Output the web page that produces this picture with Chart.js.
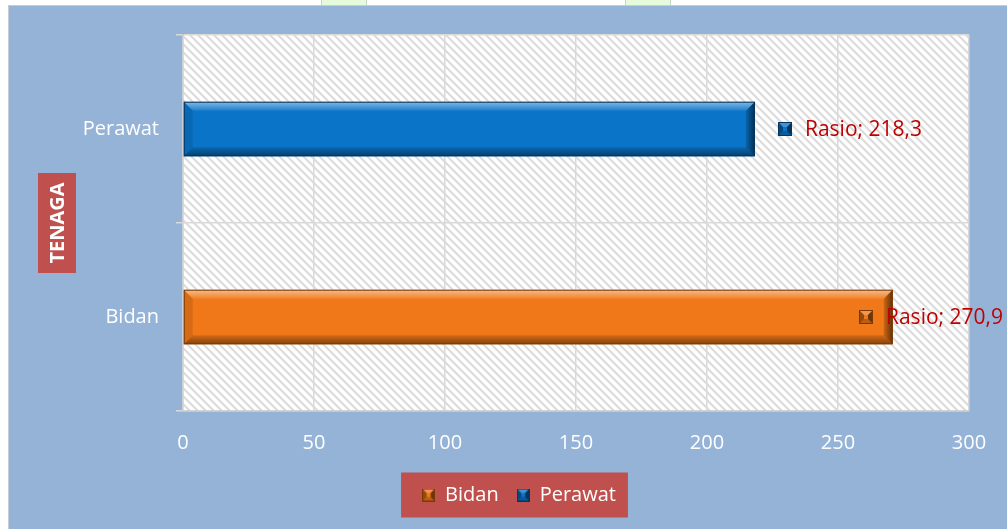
<!DOCTYPE html>
<html><head><meta charset="utf-8">
<script src="https://cdn.jsdelivr.net/npm/chart.js@4.4.1/dist/chart.umd.min.js"></script>
<style>
html,body{margin:0;padding:0;background:#fff;width:1007px;height:529px;overflow:hidden;font-family:"Open Sans",sans-serif}
.wm{position:absolute;top:0;height:5px;width:44px;background:#E6FBDC;border-left:1px solid #C9D2C4;border-right:1px solid #C9D2C4}
#box{position:absolute;left:8px;top:5px;width:999px;height:524px;background:#95B3D7;border-left:1px solid #C4CCD6;border-top:1px solid #C4CCD6;box-sizing:border-box}
#wrap{position:relative;width:998px;height:523px}
canvas{display:block}
</style></head>
<body>
<div class="wm" style="left:321px"></div>
<div class="wm" style="left:625px"></div>
<div id="box"><div id="wrap"><canvas id="c" width="998" height="523"></canvas></div></div>
<script>
// ---- data ----
const categories = ['Bidan', 'Perawat'];
const seriesName = 'Rasio';
const values = [270.9, 218.3];
const xTicks = [0, 50, 100, 150, 200, 250, 300];
const axisTitle = 'TENAGA';

// ---- styles ----
const barColors = ['#F07818', '#0A74C8'];
const barEdges = ['#7A3A06', '#04365F'];
const FONT = "'Open Sans', sans-serif";
Chart.defaults.font.family = FONT;

function poly(ctx, pts, fill){
  ctx.beginPath(); ctx.moveTo(pts[0][0], pts[0][1]);
  for (let k = 1; k < pts.length; k++) ctx.lineTo(pts[k][0], pts[k][1]);
  ctx.closePath(); ctx.fillStyle = fill; ctx.fill();
}
function drawMarker(ctx, x, y, s, i){
  const cx = x + s/2, cy = y + s/2;
  ctx.fillStyle = barColors[i]; ctx.fillRect(x, y, s, s);
  poly(ctx, [[x,y],[x+s,y],[cx,cy]], 'rgba(255,255,255,0.22)');
  poly(ctx, [[x,y+s],[x+s,y+s],[cx,cy]], 'rgba(0,0,0,0.22)');
  poly(ctx, [[x,y],[x,y+s],[cx,cy]], 'rgba(0,0,0,0.38)');
  poly(ctx, [[x+s,y],[x+s,y+s],[cx,cy]], 'rgba(0,0,0,0.55)');
  ctx.fillStyle = barColors[i];
  ctx.fillRect(cx-2, cy-2, 4, 4);
  ctx.strokeStyle = barEdges[i]; ctx.lineWidth = 1;
  ctx.strokeRect(x+0.5, y+0.5, s-1, s-1);
}
const markerImgs = categories.map((c, i) => {
  const cv = document.createElement('canvas'); cv.width = 13; cv.height = 13;
  drawMarker(cv.getContext('2d'), 0, 0, 13, i);
  return cv;
});

// hatch pattern
const hatch = document.createElement('canvas');
hatch.width = 8; hatch.height = 8;
(function(){
  const g = hatch.getContext('2d');
  g.fillStyle = '#FFFFFF'; g.fillRect(0,0,8,8);
  g.strokeStyle = '#DCDCDC'; g.lineWidth = 2.2;
  g.beginPath();
  g.moveTo(-2,-2); g.lineTo(10,10);
  g.moveTo(-10,-2); g.lineTo(2,10);
  g.moveTo(6,-2); g.lineTo(18,10);
  g.stroke();
})();

const background = {
  id: 'background',
  beforeDraw(chart){
    const {ctx, chartArea: a} = chart;
    ctx.save();
    ctx.fillStyle = ctx.createPattern(hatch, 'repeat');
    ctx.fillRect(a.left, a.top, a.right - a.left, a.bottom - a.top);
    const lg = chart.legend;
    if (lg && lg.legendHitBoxes && lg.legendHitBoxes.length){
      let l = Infinity, r = -Infinity, t = Infinity, b = -Infinity;
      lg.legendHitBoxes.forEach(h => {
        l = Math.min(l, h.left); r = Math.max(r, h.left + h.width);
        t = Math.min(t, h.top); b = Math.max(b, h.top + h.height);
      });
      const cy = (t + b) / 2;
      ctx.fillStyle = '#C0504D';
      ctx.fillRect(l - 21, cy - 22.5, (r - l) + 33, 45);
    }
    const cy = (a.top + a.bottom) / 2;
    ctx.fillStyle = '#C0504D';
    ctx.fillRect(29, cy - 50, 38, 100);
    ctx.translate(48.5, cy);
    ctx.rotate(-Math.PI / 2);
    ctx.fillStyle = '#FFFFFF';
    ctx.font = 'bold 20px ' + FONT;
    ctx.textAlign = 'center'; ctx.textBaseline = 'middle';
    ctx.fillText(axisTitle, 0, 1);
    ctx.restore();
  }
};

const bevel = {
  id: 'bevel',
  afterDatasetsDraw(chart){
    const ctx = chart.ctx;
    const meta = chart.getDatasetMeta(0);
    ctx.save();
    meta.data.forEach((bar, i) => {
      const p = bar.getProps(['x','y','base','height'], true);
      const L = Math.min(p.base, p.x), R = Math.max(p.base, p.x);
      const T = p.y - p.height/2, B = p.y + p.height/2;
      const b = 9;
      let g = ctx.createLinearGradient(0, T, 0, T + b);
      g.addColorStop(0, 'rgba(255,255,255,0.5)'); g.addColorStop(1, 'rgba(255,255,255,0.08)');
      poly(ctx, [[L,T],[R,T],[R-b,T+b],[L+b,T+b]], g);
      g = ctx.createLinearGradient(0, B - b, 0, B);
      g.addColorStop(0, 'rgba(0,0,0,0.12)'); g.addColorStop(1, 'rgba(0,0,0,0.45)');
      poly(ctx, [[L,B],[R,B],[R-b,B-b],[L+b,B-b]], g);
      poly(ctx, [[L,T],[L+b,T+b],[L+b,B-b],[L,B]], 'rgba(0,0,0,0.10)');
      g = ctx.createLinearGradient(R - b, 0, R, 0);
      g.addColorStop(0, 'rgba(0,0,0,0.15)'); g.addColorStop(1, 'rgba(0,0,0,0.6)');
      poly(ctx, [[R,T],[R-b,T+b],[R-b,B-b],[R,B]], g);
      ctx.strokeStyle = barEdges[i]; ctx.lineWidth = 1;
      ctx.strokeRect(L + 0.5, T + 0.5, R - L - 1, B - T - 1);
    });
    ctx.restore();
  }
};

const dataLabels = {
  id: 'dataLabels',
  afterDatasetsDraw(chart){
    const ctx = chart.ctx;
    const meta = chart.getDatasetMeta(0);
    ctx.save();
    ctx.font = '21px ' + FONT;
    ctx.textBaseline = 'middle'; ctx.textAlign = 'left';
    meta.data.forEach((bar, i) => {
      const txt = seriesName + '; ' + values[i].toFixed(1).replace('.', ',');
      const tw = ctx.measureText(txt).width;
      const total = 27 + tw;
      let x0 = bar.x + 23;
      if (x0 + total > chart.width - 4) x0 = chart.width - 4 - total;
      drawMarker(ctx, Math.round(x0), Math.round(bar.y - 7), 14, i);
      ctx.fillStyle = '#C00000';
      ctx.fillText(txt, x0 + 27, bar.y + 1);
    });
    ctx.restore();
  }
};

new Chart(document.getElementById('c'), {
  type: 'bar',
  data: {
    labels: categories,
    datasets: [{
      label: seriesName,
      data: values,
      backgroundColor: barColors,
      borderColor: barEdges,
      borderWidth: 0,
      categoryPercentage: 1,
      barPercentage: 0.29
    }]
  },
  options: {
    indexAxis: 'y',
    responsive: false,
    animation: false,
    layout: { padding: { left: 22, right: 0, top: 28, bottom: 14 } },
    scales: {
      x: {
        type: 'linear', min: xTicks[0], max: xTicks[xTicks.length - 1],
        afterBuildTicks: s => { s.ticks = xTicks.map(v => ({ value: v })); },
        afterFit: s => { s.height = 56; },
        ticks: { color: '#FFFFFF', font: { size: 20 }, padding: 20 },
        grid: { color: '#D9D9D9', lineWidth: 1.5, drawTicks: false },
        border: { color: '#D0D0D0', width: 1.5 }
      },
      y: {
        reverse: true,
        afterFit: s => { s.width = 152; },
        ticks: { color: '#FFFFFF', font: { size: 20 }, padding: 17 },
        grid: { color: '#D9D9D9', lineWidth: 1.5, offset: true, tickLength: 7 },
        border: { color: '#C8CDD6', width: 1.5 }
      },
      y2: {
        type: 'category', position: 'right', display: true,
        afterFit: s => { s.width = 38; },
        ticks: { display: false },
        grid: { display: false, drawTicks: false },
        border: { display: false }
      }
    },
    plugins: {
      tooltip: { enabled: false },
      legend: {
        position: 'bottom',
        onClick: null,
        labels: {
          color: '#FFFFFF',
          font: { size: 20 },
          padding: 18,
          usePointStyle: true,
          boxWidth: 13, boxHeight: 13,
          generateLabels: () => categories.map((c, i) => ({
            text: c, fillStyle: barColors[i], strokeStyle: barEdges[i],
            pointStyle: markerImgs[i], fontColor: '#FFFFFF', hidden: false, index: i, lineWidth: 0
          }))
        }
      }
    }
  },
  plugins: [background, bevel, dataLabels]
});
</script>
</body></html>
